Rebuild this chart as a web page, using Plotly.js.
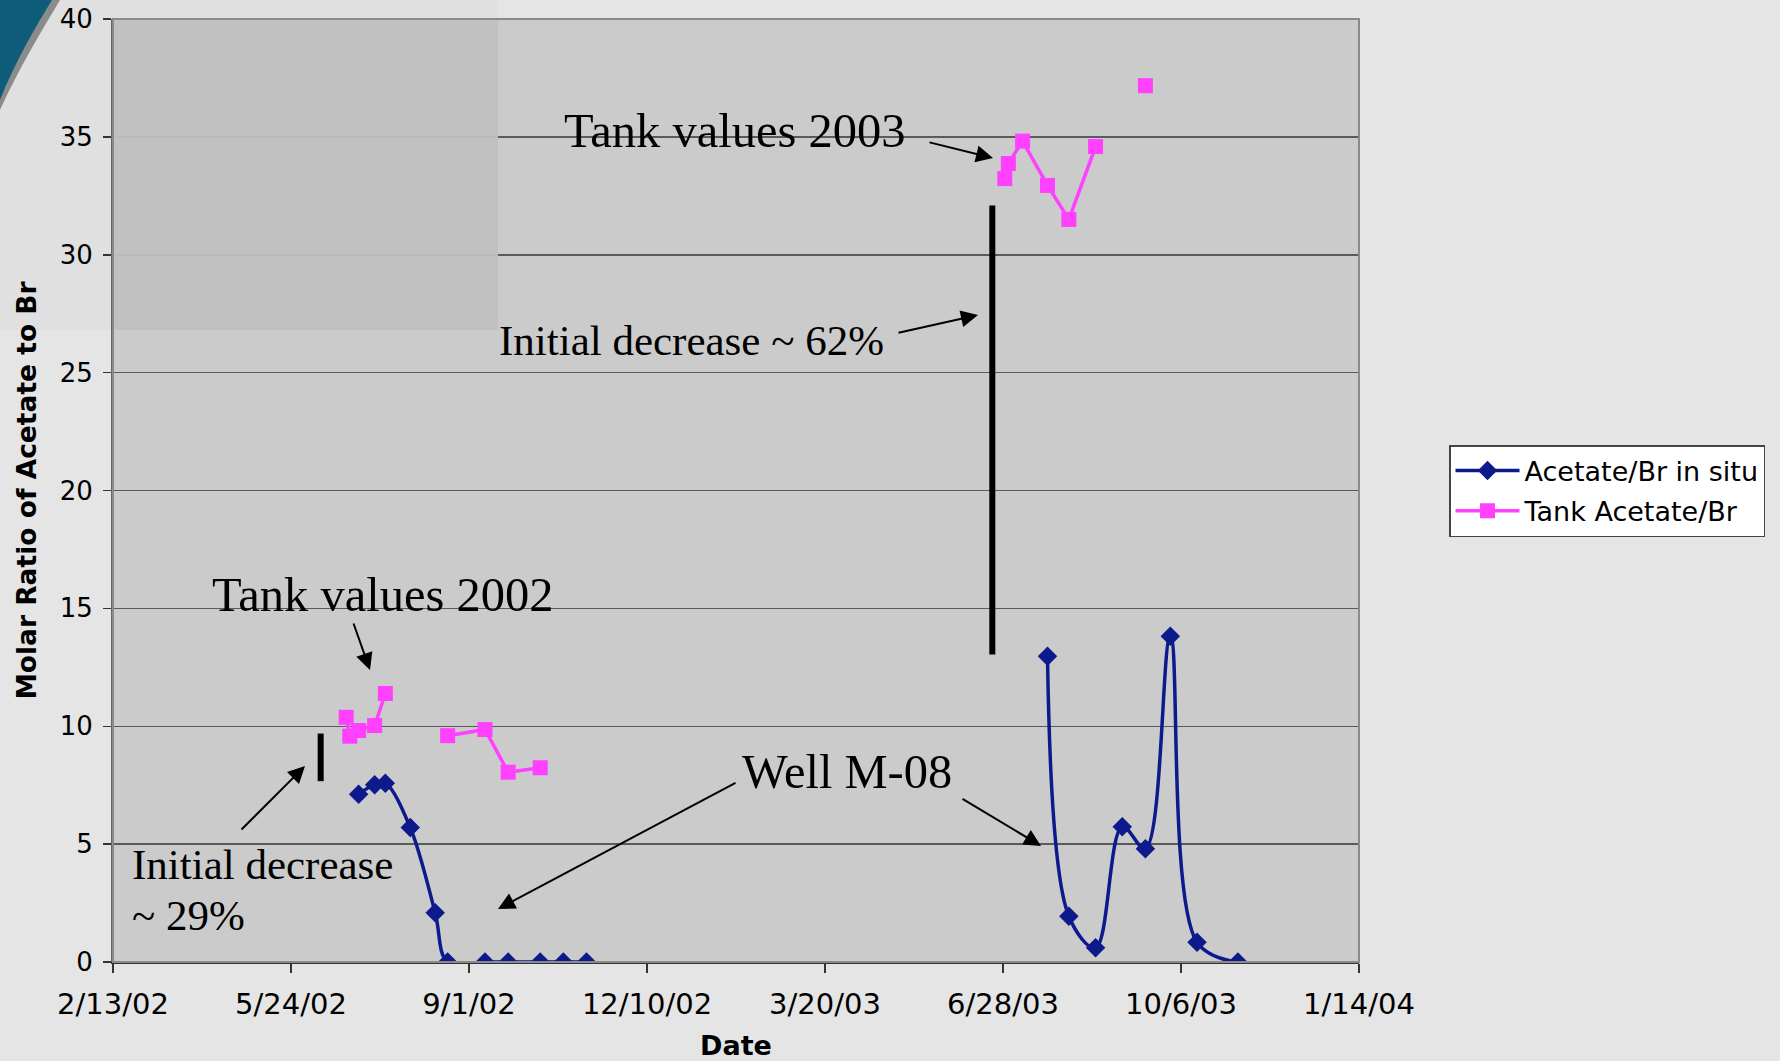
<!DOCTYPE html>
<html>
<head>
<meta charset="utf-8">
<script src="https://cdn.plot.ly/plotly-3.0.1.min.js"></script>
<style>
  html, body { margin: 0; padding: 0; background: #e5e5e5; }
  #chart { width: 1780px; height: 1061px; }
</style>
</head>
<body>
<div id="chart"></div>
<script>
// ---- Data ----
const sampleDates = ['2002-06-24','2002-06-26','2002-07-01','2002-07-10','2002-07-16','2002-07-30',
  '2002-08-13','2002-08-20','2002-09-10','2002-09-23','2002-10-11','2002-10-24','2002-11-06',
  '2003-06-29','2003-07-01','2003-07-09','2003-07-23','2003-08-04','2003-08-19','2003-09-03',
  '2003-09-16','2003-09-30','2003-10-15','2003-11-07'];
const inSituRatio = [null, null, 7.12, 7.52, 7.58, 5.70, 2.09, 0, 0, 0, 0, 0, 0,
  null, null, null, 12.97, 1.94, 0.60, 5.74, 4.80, 13.82, 0.84, 0];
const tankRatio = [10.38, 9.58, 9.82, 10.03, 11.39, null, null, 9.60, 9.86, 8.05, 8.24, null, null,
  33.23, 33.87, 34.82, 32.94, 31.50, 34.59, null, 37.17, null, null, null];
const seriesNames = ['Acetate/Br in situ', 'Tank Acetate/Br'];

const xTickVals = ['2002-02-13','2002-05-24','2002-09-01','2002-12-10','2003-03-20','2003-06-28','2003-10-06','2004-01-14'];
const xTickText = ['2/13/02','5/24/02','9/1/02','12/10/02','3/20/03','6/28/03','10/6/03','1/14/04'];
const xRange = ['2002-02-13','2004-01-14'];
const yRange = [0, 40];

// "Initial decrease" bars (date, from value, to value)
const decrease2002 = {date: '2002-06-09 16:00', from: 7.67, to: 9.69};
const decrease2003 = {date: '2003-06-22', from: 13.04, to: 32.09};

// ---- Layout helpers (pixel -> paper) ----
const W = 1780, H = 1061;
const PL = 113, PR = 1359, PT = 19, PB = 962;
const px = x => (x - PL) / (PR - PL);
const py = y => (PB - y) / (PB - PT);

const serif = 'Times New Roman, Liberation Serif, serif';
const sans = 'Verdana, DejaVu Sans, sans-serif';

function label(text, left, centerY, size) {
  return {xref: 'paper', yref: 'paper', x: px(left), y: py(centerY), xanchor: 'left', yanchor: 'middle',
    text: text, showarrow: false, font: {family: serif, size: size, color: '#000'}};
}
function arrow(tx, ty, hx, hy) {
  return {xref: 'paper', yref: 'paper', x: px(hx), y: py(hy), axref: 'pixel', ayref: 'pixel',
    ax: tx - hx, ay: ty - hy, text: '', showarrow: true, arrowhead: 2, arrowsize: 1.7,
    arrowwidth: 2, arrowcolor: '#000', standoff: 0, startstandoff: 0};
}
function prect(x0, y0, x1, y1, fill, layer, extra) {
  return Object.assign({type: 'rect', xref: 'paper', yref: 'paper', x0: px(x0), x1: px(x1),
    y0: py(y1), y1: py(y0), fillcolor: fill, line: {width: 0}, layer: layer}, extra || {});
}

const traces = [
  {x: sampleDates, y: inSituRatio, name: seriesNames[0], type: 'scatter', mode: 'lines+markers',
   connectgaps: false, line: {color: '#0d1a8c', width: 3.5, shape: 'spline', smoothing: 1},
   marker: {symbol: 'diamond', size: 15, color: '#0d1a8c'}, legendgroup: 'a'},
  {x: sampleDates, y: tankRatio, name: seriesNames[1], type: 'scatter', mode: 'lines+markers',
   connectgaps: false, line: {color: '#ff40ff', width: 3.5},
   marker: {symbol: 'square', size: 15, color: '#ff40ff'}, legendgroup: 'b'}
];

const shapes = [
  // slide background tint top-left (margin parts only)
  prect(0, 0, PL, 330, '#e0e0e0', 'below'),
  prect(PL, 0, 498, PT, '#e0e0e0', 'below'),
  // overlay inside the plot area (no data there, so drawn above grid)
  prect(PL, PT, 498, 330, '#c0c0c0', 'above', {opacity: 0.95}),
  // teal corner decoration with shadow
  {type: 'path', xref: 'paper', yref: 'paper', layer: 'above',
   path: `M ${px(0)},${py(0)} L ${px(60)},${py(0)} C ${px(42)},${py(30)} ${px(18)},${py(70)} ${px(0)},${py(110)} Z`,
   fillcolor: 'rgba(70,70,70,0.55)', line: {width: 0}},
  {type: 'path', xref: 'paper', yref: 'paper', layer: 'above',
   path: `M ${px(0)},${py(0)} L ${px(52)},${py(0)} C ${px(36)},${py(26)} ${px(15)},${py(62)} ${px(0)},${py(100)} Z`,
   fillcolor: '#0e5b7a', line: {width: 0}},
  // plot frame
  {type: 'rect', xref: 'paper', yref: 'paper', x0: 0, x1: 1, y0: 0, y1: 1,
   line: {color: '#8a8a8a', width: 2}, fillcolor: 'rgba(0,0,0,0)', layer: 'above'},
  // initial decrease bars
  {type: 'line', xref: 'x', yref: 'y', x0: decrease2003.date, x1: decrease2003.date,
   y0: decrease2003.from, y1: decrease2003.to, line: {color: '#000', width: 6}, layer: 'above'},
  {type: 'line', xref: 'x', yref: 'y', x0: decrease2002.date, x1: decrease2002.date,
   y0: decrease2002.from, y1: decrease2002.to, line: {color: '#000', width: 6}, layer: 'above'}
];

const annotations = [
  label('Tank values 2003', 562, 130, 48.5),
  arrow(928, 142, 993, 158),
  label('Initial decrease ~ 62%', 497, 340, 43),
  arrow(897, 333, 978, 315),
  label('Tank values 2002', 210, 594, 48.5),
  arrow(353, 622, 370, 670),
  label('Initial decrease', 130, 864, 43),
  label('~ 29%', 130, 915, 43),
  arrow(240, 831, 305, 766),
  label('Well M-08', 740, 771, 48.5),
  arrow(737, 782, 498, 909),
  arrow(961, 798, 1041, 846)
];

const layout = {
  width: W, height: H,
  margin: {l: PL, r: W - PR, t: PT, b: H - PB, pad: 0},
  paper_bgcolor: '#e5e5e5', plot_bgcolor: '#cbcbcb',
  font: {family: sans, color: '#000'},
  xaxis: {
    type: 'date', range: xRange, tickmode: 'array', tickvals: xTickVals, ticktext: xTickText,
    showgrid: false, zeroline: false, showline: true, linecolor: '#333', linewidth: 2,
    ticks: 'outside', ticklen: 9, tickwidth: 1.5, tickcolor: '#333',
    tickfont: {family: sans, size: 29, color: '#000'}, ticklabelstandoff: 6,
    title: {text: '<b>Date</b>', font: {family: sans, size: 27, color: '#000'}, standoff: 23},
    automargin: false
  },
  yaxis: {
    range: yRange, dtick: 5, tick0: 0, showgrid: true, gridcolor: '#5a5a5a', gridwidth: 1.5,
    zeroline: false, showline: true, linecolor: '#666', linewidth: 2,
    ticks: 'outside', ticklen: 8, tickwidth: 1.5, tickcolor: '#333',
    tickfont: {family: sans, size: 26, color: '#000'}, ticklabelstandoff: 5,
    title: {text: '<b>Molar Ratio of Acetate to Br</b>', font: {family: sans, size: 26.5, color: '#000'}, standoff: 15},
    automargin: false
  },
  showlegend: true,
  legend: {
    x: px(1449), y: py(445), xanchor: 'left', yanchor: 'top',
    bgcolor: '#ffffff', bordercolor: '#444', borderwidth: 1.5,
    font: {family: sans, size: 27, color: '#000'},
    traceorder: 'grouped', tracegroupgap: 2, itemwidth: 64
  },
  shapes: shapes,
  annotations: annotations
};

Plotly.newPlot('chart', traces, layout, {displayModeBar: false, staticPlot: true});
</script>
</body>
</html>
